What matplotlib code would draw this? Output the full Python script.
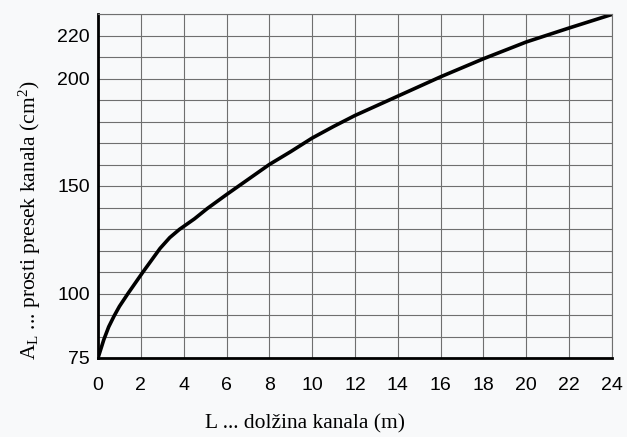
import numpy as np
import matplotlib.pyplot as plt

plt.rcParams['mathtext.fontset'] = 'custom'
plt.rcParams['mathtext.rm'] = 'Liberation Serif'
plt.rcParams['mathtext.it'] = 'Liberation Serif:italic'

# values (axis bottom sits on the grid line labelled "75")
L = [0, 0.27, 0.5, 0.75, 1.0, 1.4, 1.75, 2.1, 2.5, 2.9, 3.35, 3.8, 4.5, 5.1,
     6, 7, 8, 9, 10, 11, 12, 14, 16, 18, 20, 22, 24]
A = [70, 78.5, 84.5, 89.5, 94, 100, 105, 110, 115.5, 121, 126, 129.8, 134.7, 139.5,
     146, 153, 160, 166, 172.3, 177.7, 182.8, 191.8, 200.8, 209.2, 217, 223.5, 229.8]

xticks = np.arange(0, 25, 2)
ytick_pos = [70, 100, 150, 200, 220]
ytick_lab = ["75", "100", "150", "200", "220"]

bg = "#f8f9fa"
fig = plt.figure(figsize=(6.27, 4.37), dpi=100, facecolor=bg)
ax = fig.add_axes([98/627, 1-358/437, 514/627, 344/437], facecolor=bg)

ax.plot(L, A, color="black", lw=2.6, solid_capstyle="round", solid_joinstyle="round")

ax.set_xlim(0, 24)
ax.set_ylim(70, 230)
ax.set_xticks(xticks)
ax.set_yticks(ytick_pos)
ax.set_yticklabels(ytick_lab)
ax.set_yticks(np.arange(70, 231, 10), minor=True)

ax.grid(True, which="major", axis="x", color="#6f6f6f", lw=0.8)
ax.grid(True, which="both", axis="y", color="#6f6f6f", lw=0.8)
ax.tick_params(which="both", length=0, labelsize=14)
ax.tick_params(axis="x", pad=14)
ax.tick_params(axis="y", pad=6)
for lab in ax.get_xticklabels() + ax.get_yticklabels():
    lab.set_fontfamily("Liberation Sans")

for s in ["left", "bottom"]:
    ax.spines[s].set_linewidth(2)
    ax.spines[s].set_color("black")
for s in ["top", "right"]:
    ax.spines[s].set_linewidth(0.8)
    ax.spines[s].set_color("#6f6f6f")

fig.text(305/627, 1-424/437, "L ... dolžina kanala (m)", ha="center", va="center",
         fontsize=15.5, family="Liberation Serif")
fig.text(30/627, 1-220/437, r"A$_\mathrm{L}$ ... prosti presek kanala (cm$^2$)",
         ha="center", va="center", rotation=90, fontsize=15.5, family="Liberation Serif")

fig.savefig("out.png", dpi=100, facecolor=bg)
